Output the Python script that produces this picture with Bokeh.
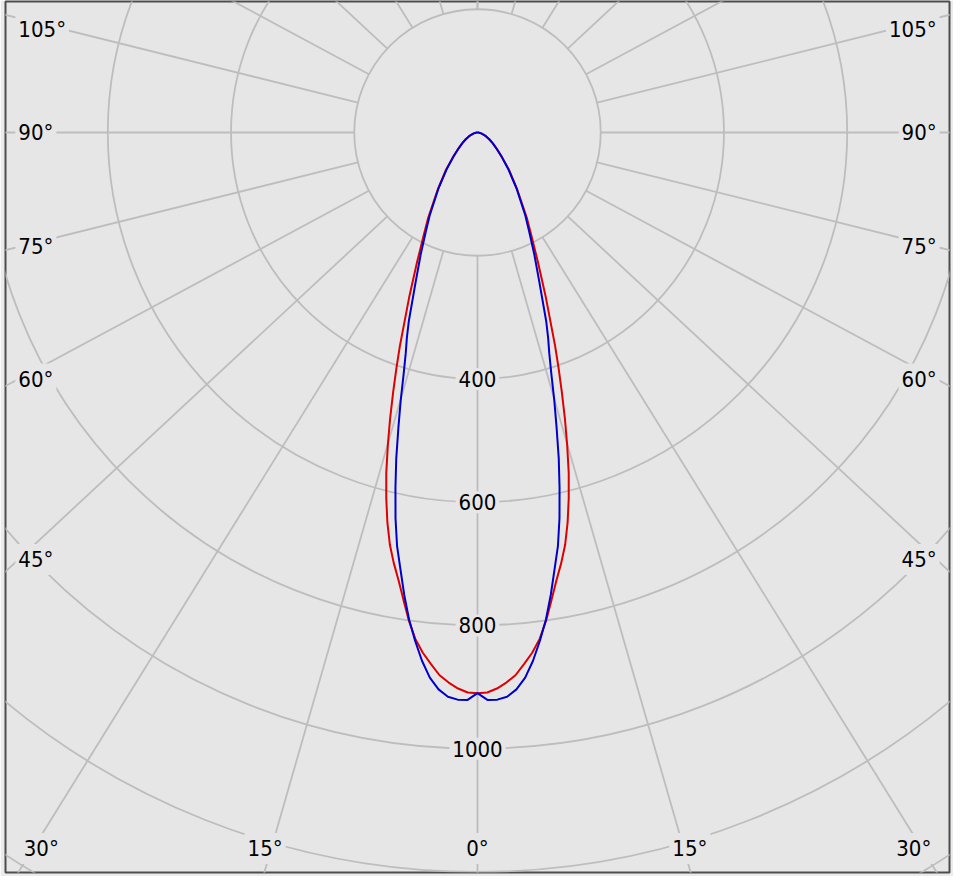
import numpy as np
from bokeh.plotting import figure
from bokeh.models import Range1d, Label
from bokeh.embed import file_html
from bokeh.resources import INLINE

# ---- data (luminous intensity, cd) ----
gamma_deg = [0, 1, 2, 3, 4, 5, 6, 7, 8, 9, 10, 11, 12, 13, 14, 15, 16, 17, 18, 19, 20,
             22.5, 25, 27.5, 30, 35, 40, 45, 50, 55, 60, 65, 70, 75, 80, 85, 90]
red_cd = [910, 909, 903, 894, 883, 866, 849, 828, 800, 768, 738, 712, 684, 650, 612, 572,
          528, 485, 443, 404, 368, 290, 232, 190, 160, 112, 80, 56, 40, 30, 22, 16, 11, 7, 4, 2, 0]
blue_cd = [910, 921, 921, 917, 906, 888, 862, 831, 798, 760, 720, 684, 640, 592, 545, 496,
           452, 410, 377, 352, 326, 262, 218, 182, 155, 110, 78, 55, 40, 30, 22, 16, 11, 7, 4, 2, 0]

ring_values = [200, 400, 600, 800, 1000, 1200, 1400]
ring_labels = [400, 600, 800, 1000]
spoke_angles = list(range(-180, 181, 15))
side_label_angles = [45, 60, 75, 90, 105]
bottom_label_angles = [-30, -15, 0, 15, 30]

# ---- style ----
BG = "#e6e6e6"
OUTER = "#ebebeb"
GRID = "#bdbdbd"
FONT = "DejaVu Sans Condensed"
FSIZE = "22px"
STRETCH = 1.075  # spoke direction stretch seen in the reference

p = figure(width=953, height=876, output_backend="svg", toolbar_location=None,
           x_axis_type=None, y_axis_type=None,
           x_range=Range1d(-766, 766), y_range=Range1d(-1201, 212.6),
           min_border_left=5, min_border_right=4, min_border_top=1, min_border_bottom=4)
p.background_fill_color = BG
p.border_fill_color = OUTER
p.outline_line_color = "#4d4d4d"
p.outline_line_width = 2

# rings
p.circle(x=[0] * len(ring_values), y=[0] * len(ring_values), radius=ring_values,
         fill_color=None, line_color=GRID, line_width=1.8)

# spokes (from the 200 ring outward)
g = np.radians(np.array(spoke_angles, dtype=float))
ux = STRETCH * np.sin(g)
uy = -np.cos(g)
n = np.hypot(ux, uy)
ux, uy = ux / n, uy / n
r0 = ring_values[0]
p.segment(x0=r0 * ux, y0=r0 * uy, x1=3000 * ux, y1=3000 * uy, line_color=GRID, line_width=1.8)

# curves
def half_to_full(vals):
    ga = np.radians(np.array(gamma_deg, dtype=float))
    v = np.array(vals, dtype=float)
    xl, yl = -v * np.sin(ga), -v * np.cos(ga)
    xr, yr = v * np.sin(ga), -v * np.cos(ga)
    return np.concatenate([xl[::-1], xr[1:]]), np.concatenate([yl[::-1], yr[1:]])

xr_, yr_ = half_to_full(red_cd)
p.line(xr_, yr_, line_color="#dd0000", line_width=2)
xb_, yb_ = half_to_full(blue_cd)
p.line(xb_, yb_, line_color="#0000cc", line_width=2)

def lab(x, y, text, align):
    p.add_layout(Label(x=x, y=y, text=text, text_align=align, text_baseline="middle",
                       text_font=FONT, text_font_size=FSIZE, text_color="#000000",
                       background_fill_color=BG, padding=3))

# ring labels
for v in ring_labels:
    lab(0, -v, str(v), "center")

# side angle labels
XS = 750
for a in side_label_angles:
    ga = np.radians(a)
    xa = 745 if a <= 90 else 672
    y = -xa * np.cos(ga) / (STRETCH * np.sin(ga))
    lab(-XS, y, f"{a}°", "left")
    lab(XS, y, f"{a}°", "right")

# bottom angle labels
YB = -1162
for a in bottom_label_angles:
    ga = np.radians(abs(a))
    x = np.sign(a) * min(-YB * STRETCH * np.tan(ga) + 10, 708)
    lab(float(x), YB, f"{abs(a)}°", "center")

open("out.html", "w").write(file_html(p, INLINE))
